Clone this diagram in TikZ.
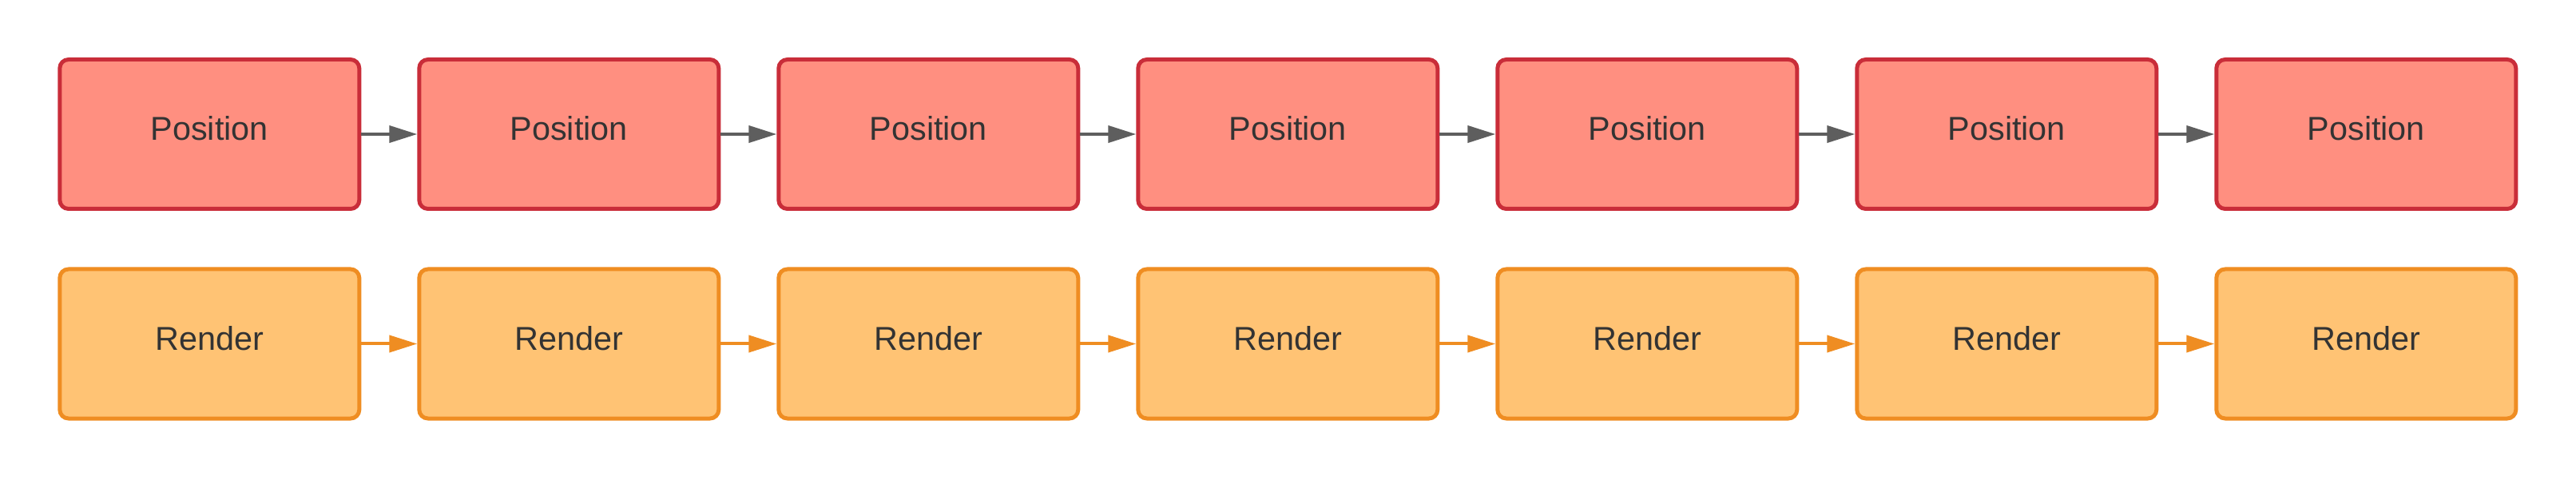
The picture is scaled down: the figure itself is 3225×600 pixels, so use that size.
\documentclass[tikz,border=0pt]{standalone}
\usepackage{fontspec}
\setmainfont{Liberation Sans}
\usetikzlibrary{arrows.meta}
\definecolor{posfill}{HTML}{FF8F80}
\definecolor{posline}{HTML}{C92D39}
\definecolor{renfill}{HTML}{FFC374}
\definecolor{renline}{HTML}{EF8D22}
\definecolor{txt}{HTML}{333333}
\definecolor{arrgray}{HTML}{5E5E5E}
\tikzset{
  box/.style={draw, line width=5pt, rounded corners=11pt, minimum width=375pt, minimum height=187pt,
    inner sep=0pt, text=txt, text depth=14pt, font=\fontsize{41.4}{48}\selectfont},
  posbox/.style={box, fill=posfill, draw=posline},
  renbox/.style={box, fill=renfill, draw=renline},
  conn/.style={line width=4pt, -{Triangle[length=35pt, width=21pt]}},
}
\begin{document}
\begin{tikzpicture}[x=1pt,y=1pt]
\useasboundingbox (0,0) rectangle (3225,600);
\foreach \i in {1,...,7}{
  \node[posbox] (p\i) at ({262.3+450*(\i-1)},432) {Position};
  \node[renbox] (r\i) at ({262.3+450*(\i-1)},169.5) {Render};
}
\foreach \i [evaluate=\i as \j using int(\i+1)] in {1,...,6}{
  \draw[conn, draw=arrgray, fill=arrgray] (p\i.east) -- (p\j.west);
  \draw[conn, draw=renline, fill=renline] (r\i.east) -- (r\j.west);
}
\end{tikzpicture}
\end{document}
